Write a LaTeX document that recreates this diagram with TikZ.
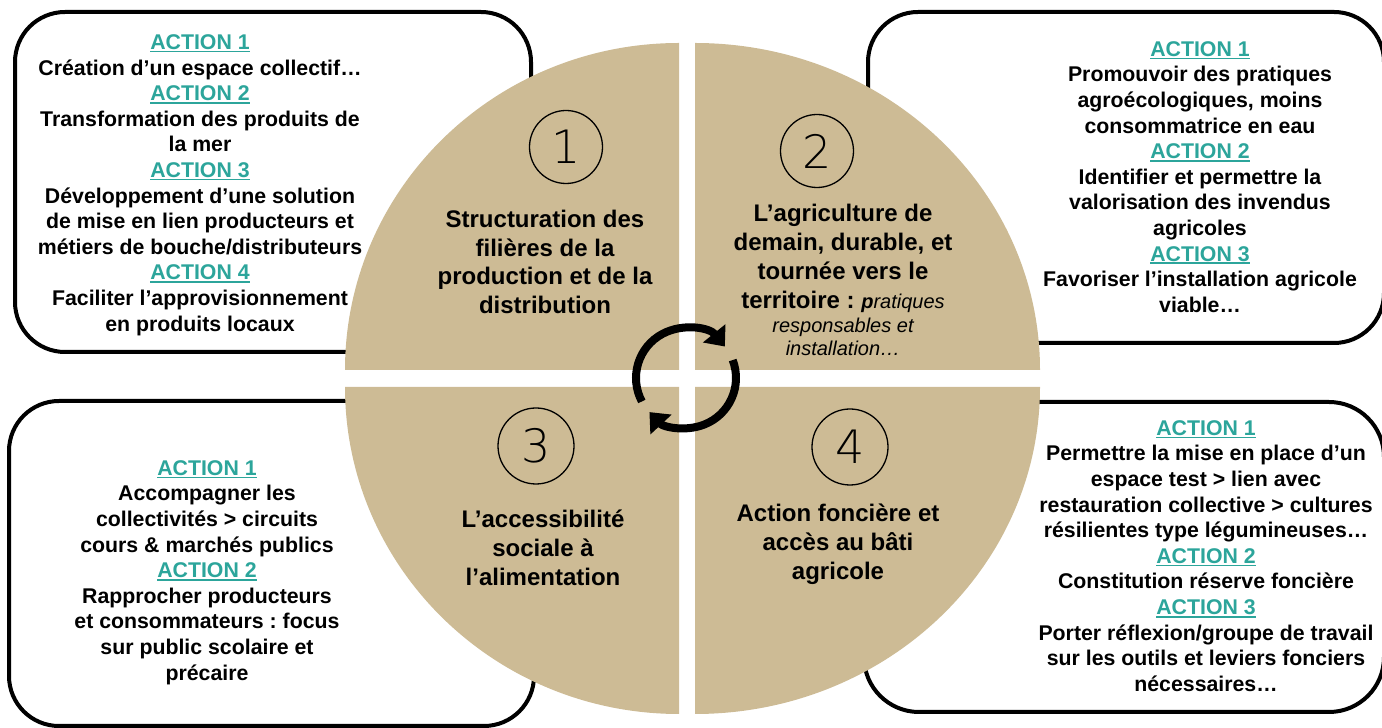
\documentclass[tikz,border=0pt]{standalone}
\usepackage{fontspec}
\setmainfont{Liberation Sans}
\newfontfamily\numfont{DejaVu Sans ExtraLight}
\usetikzlibrary{positioning,arrows.meta}
\definecolor{pietan}{RGB}{205,187,149}
\definecolor{actteal}{RGB}{44,165,155}
\newcommand{\act}[1]{{\color{actteal}\setbox0\hbox{ACTION #1}\rlap{\rule[-3pt]{\wd0}{1.8pt}}\box0}}
\frenchspacing

\begin{document}
\begin{tikzpicture}[x=1pt, y=1pt,
    actionbox/.style={draw, line width=4pt, fill=white, rounded corners=50pt},
    actiontext/.style={align=center, font=\fontsize{21.3}{25.6}\selectfont\bfseries},
    pietitle/.style={align=center, font=\fontsize{24}{28.8}\selectfont\bfseries},
    numcircle/.style={circle, draw, line width=1.3pt, minimum size=73pt, inner sep=0pt, font=\numfont\fontsize{46}{46}\selectfont},
    cyclearrow/.style={line width=8pt, -{Triangle[length=17pt, width=28pt]}}]

    \useasboundingbox (0,0) rectangle (1382,728);

    % action boxes behind the pie
    \draw[actionbox] (15,716) rectangle (531,376);
    \draw[actionbox] (868,716) rectangle (1384,385);
    \draw[actionbox] (9,327) rectangle (534,2);
    \draw[actionbox, rounded corners=55pt] (864,326) rectangle (1384,16);

    % the four quarters
    \fill[pietan] (679,358) -- (345,358) arc[start angle=180, end angle=90, x radius=334, y radius=327] -- cycle;
    \fill[pietan] (695,358) -- (695,685) arc[start angle=90, end angle=0, x radius=345, y radius=327] -- cycle;
    \fill[pietan] (679,341) -- (679,14) arc[start angle=270, end angle=180, x radius=334, y radius=327] -- cycle;
    \fill[pietan] (695,341) -- (1040,341) arc[start angle=0, end angle=-90, x radius=345, y radius=327] -- cycle;

    \node (num1) [numcircle] at (566,581) {1};
    \node (num2) [numcircle] at (817,577) {2};
    \node (num3) [numcircle, minimum size=76pt] at (536,282) {3};
    \node (num4) [numcircle, minimum size=76pt] at (850,281) {4};

    \node (title1) [pietitle] at (545,466) {Structuration des\\filières de la\\production et de la\\distribution};
    \node (title2) [pietitle] at (843,469.5) {L’agriculture de\\demain, durable, et\\tournée vers le\\territoire : {\fontsize{20}{24}\selectfont\itshape p}{\fontsize{20}{24}\selectfont\mdseries\itshape ratiques}};
    \node (title2b) [align=center, font=\fontsize{20}{23}\selectfont\itshape] at (843,391.5) {responsables et\\installation…};
    \node (title3) [pietitle] at (543,180) {L’accessibilité\\sociale à\\l’alimentation};
    \node (title4) [pietitle] at (838,184) {Action foncière et\\accès au bâti\\agricole};

    % actions
    \node (acts1) [actiontext] at (200,543) {\act{1}\\Création d’un espace collectif…\\\act{2}\\Transformation des produits de\\la mer\\\act{3}\\Développement d’une solution\\de mise en lien producteurs et\\métiers de bouche/distributeurs\\\act{4}\\Faciliter l’approvisionnement\\en produits locaux};
    \node (acts2) [actiontext] at (1200,551) {\act{1}\\Promouvoir des pratiques\\agroécologiques, moins\\consommatrice en eau\\\act{2}\\Identifier et permettre la\\valorisation des invendus\\agricoles\\\act{3}\\Favoriser l’installation agricole\\viable…};
    \node (acts3) [actiontext] at (207,155.5) {\act{1}\\Accompagner les\\collectivités > circuits\\cours \& marchés publics\\\act{2}\\Rapprocher producteurs\\et consommateurs : focus\\sur public scolaire et\\précaire};
    \node (acts4) [actiontext] at (1206,172) {\act{1}\\Permettre la mise en place d’un\\espace test > lien avec\\restauration collective > cultures\\résilientes type légumineuses…\\\act{2}\\Constitution réserve foncière\\\act{3}\\Porter réflexion/groupe de travail\\sur les outils et leviers fonciers\\nécessaires…};

    % cycle in the middle
    \draw[cyclearrow] (686,350) ++(208:50) arc[start angle=208, end angle=39, radius=50];
    \draw[cyclearrow] (686,350) ++(21:50) arc[start angle=21, end angle=-137, radius=50];
\end{tikzpicture}
\end{document}
